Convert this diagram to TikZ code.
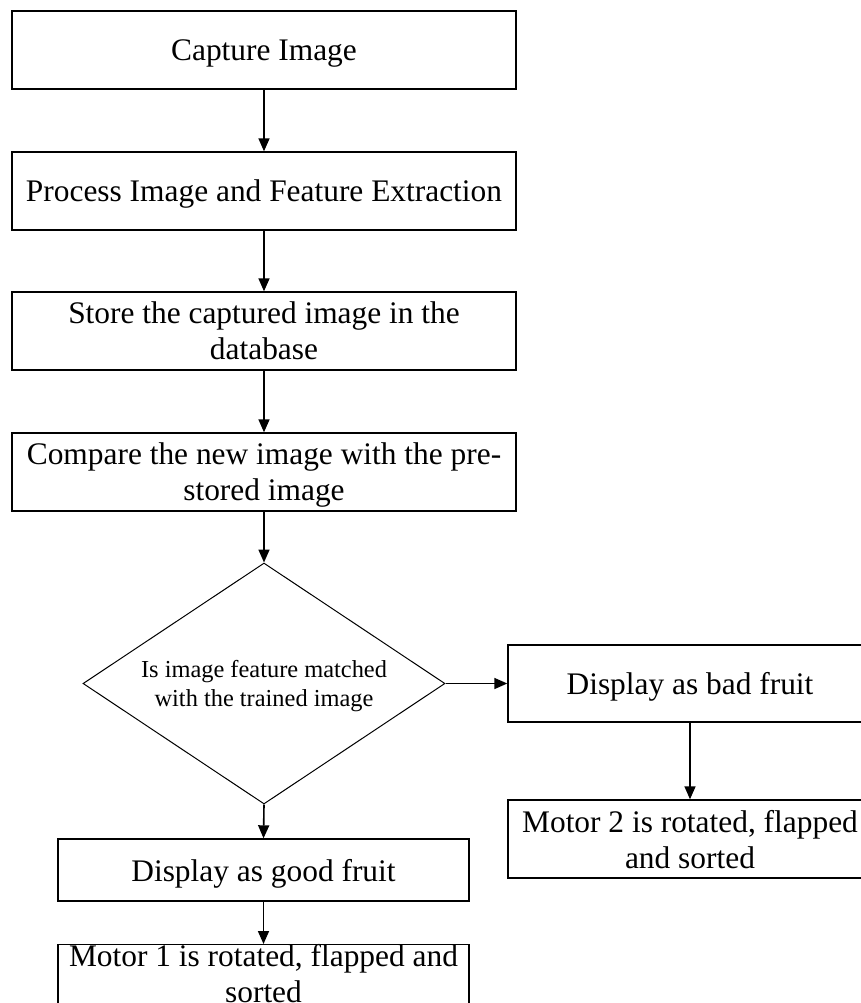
\documentclass[tikz,border=0pt]{standalone}
\usepackage{fontspec}
\setmainfont{Liberation Serif}
\usetikzlibrary{shapes.geometric,arrows.meta}
\begin{document}
\begin{tikzpicture}[x=1pt,y=-1pt,
  box/.style={draw=black,line width=1.4pt,rectangle,inner sep=0pt,align=center,
    text depth=0pt,font=\fontsize{31.4}{36}\selectfont},
  decision/.style={draw=black,line width=1pt,diamond,aspect=1.5,inner sep=0pt,align=center,
    text depth=0pt,minimum width=362pt,minimum height=241pt,font=\fontsize{24.4}{29}\selectfont},
  flow/.style={line width=1.6pt,-{Triangle[length=13pt,width=11pt]}}]
\useasboundingbox (0,0) rectangle (861,1003);
\fill[white] (0,0) rectangle (861,1003);
\clip (0,0) rectangle (861,1003);
\node[box,minimum width=504pt,minimum height=78pt] (b1) at (264,50) {Capture Image};
\node[box,minimum width=504pt,minimum height=78pt] (b2) at (264,191) {Process Image and Feature Extraction};
\node[box,minimum width=504pt,minimum height=78pt] (b3) at (264,331) {Store the captured image in the\\database};
\node[box,minimum width=504pt,minimum height=78pt] (b4) at (264,472) {Compare the new image with the pre-\\stored image};
\node[decision] (d) at (264,683.5) {Is image feature matched\\with the trained image};
\node[box,minimum width=364pt,minimum height=77pt] (bad) at (690,683.5) {Display as bad fruit};
\node[box,minimum width=364pt,minimum height=78pt] (m2) at (690,839) {Motor 2 is rotated, flapped\\and sorted};
\node[box,minimum width=411pt,minimum height=62pt] (good) at (263.5,870) {Display as good fruit};
\node[box,minimum width=411pt,text depth=40pt,anchor=north] (m1) at (263.5,944) {Motor 1 is rotated, flapped and\\sorted};
\draw[flow] (b1) -- (b2);
\draw[flow] (b2) -- (b3);
\draw[flow] (b3) -- (b4);
\draw[flow] (b4.south) -- (d.north);
\draw[flow] (d.south) -- (good.north);
\draw[flow] (good) -- (m1);
\draw[flow] (d.east) -- (bad.west);
\draw[flow] (bad) -- (m2);
\end{tikzpicture}
\end{document}
